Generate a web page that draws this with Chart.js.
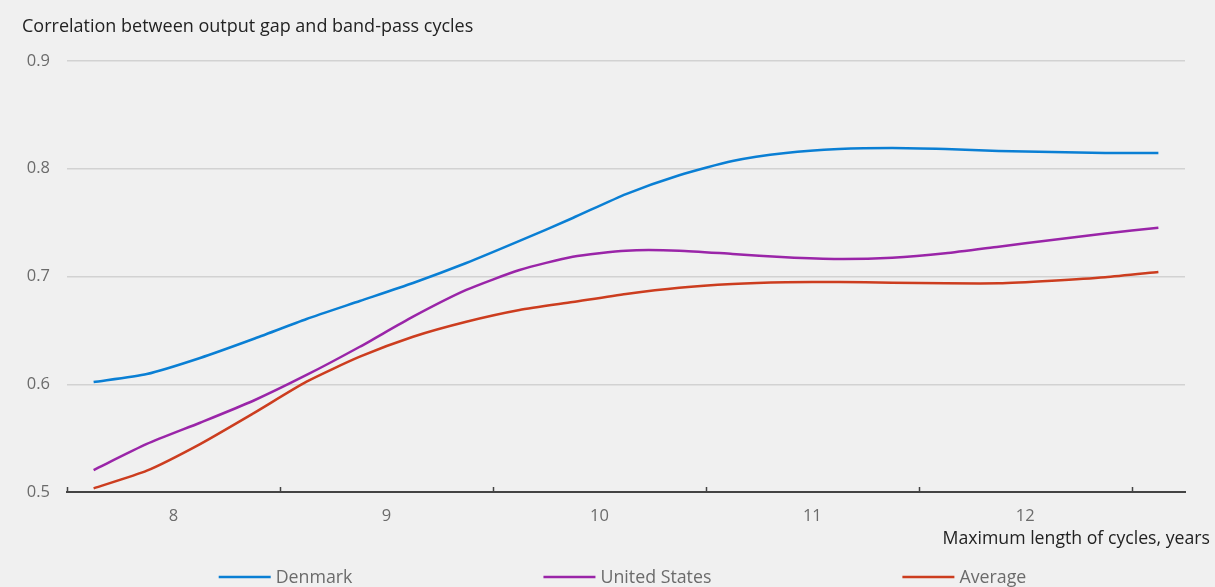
<!DOCTYPE html>
<html><head><meta charset="utf-8">
<script src="https://cdn.jsdelivr.net/npm/chart.js@4.4.0/dist/chart.umd.min.js"></script>
<style>html,body{margin:0;padding:0;background:#f0f0f0;overflow:hidden}#wrap{width:1215px;height:587px;position:relative}</style>
</head><body><div id="wrap"><canvas id="c"></canvas></div>
<script>
const xValues = [7.625, 7.875, 8.125, 8.375, 8.625, 8.875, 9.125, 9.375, 9.625, 9.875, 10.125, 10.375, 10.625, 10.875, 11.125, 11.375, 11.625, 11.875, 12.125, 12.375, 12.625];
const denmark = [0.602, 0.6095, 0.6244, 0.642, 0.6606, 0.6773, 0.694, 0.7125, 0.733, 0.7543, 0.7765, 0.794, 0.8072, 0.8146, 0.8183, 0.8193, 0.8183, 0.8165, 0.8155, 0.8146, 0.8146];
const unitedStates = [0.5204, 0.5446, 0.5643, 0.5847, 0.6086, 0.6348, 0.6627, 0.6875, 0.706, 0.7184, 0.724, 0.724, 0.7209, 0.7178, 0.7162, 0.7174, 0.7215, 0.7277, 0.7339, 0.740, 0.7453];
const average = [0.5034, 0.5198, 0.5445, 0.573, 0.6024, 0.6256, 0.6441, 0.658, 0.6689, 0.6763, 0.6838, 0.6896, 0.693, 0.6946, 0.6949, 0.6943, 0.6937, 0.6937, 0.6961, 0.6993, 0.7042];
const xTickLabels = [8, 9, 10, 11, 12];
const xBoundaryTicks = [7.5, 8.5, 9.5, 10.5, 11.5, 12.5];
const yTicks = [0.5, 0.6, 0.7, 0.8, 0.9];
const seriesNames = ['Denmark', 'United States', 'Average'];
const seriesColors = ['#0a7fd4', '#9a25a8', '#cc3d1f'];
const chartTitle = 'Correlation between output gap and band-pass cycles';
const xAxisTitle = 'Maximum length of cycles, years';

const FONT = '"Open Sans", "Noto Sans", sans-serif';
const series = [denmark, unitedStates, average];

const extras = {
  id: 'extras',
  afterDraw(chart) {
    const ctx = chart.ctx;
    const xs = chart.scales.x;
    const ca = chart.chartArea;
    ctx.save();
    ctx.strokeStyle = '#444';
    ctx.lineWidth = 1.5;
    xBoundaryTicks.forEach(v => {
      const px = Math.round(xs.getPixelForValue(v)) + 0.5;
      ctx.beginPath();
      ctx.moveTo(px, ca.bottom);
      ctx.lineTo(px, ca.bottom - 5);
      ctx.stroke();
    });
    ctx.font = '17.7px ' + FONT;
    ctx.fillStyle = '#222';
    ctx.textAlign = 'right';
    ctx.textBaseline = 'middle';
    ctx.fillText(xAxisTitle, chart.width - 5, 539);
    ctx.font = '17.8px ' + FONT;
    const lineLen = 52, gap = 5, itemGap = 191;
    const widths = chart.data.datasets.map(d => lineLen + gap + ctx.measureText(d.label).width);
    const total = widths.reduce((a, b) => a + b, 0) + itemGap * (widths.length - 1);
    let x = chart.width / 2 + 15 - total / 2;
    const y = 577;
    chart.data.datasets.forEach((d, i) => {
      ctx.strokeStyle = d.borderColor;
      ctx.lineWidth = 2.5;
      ctx.beginPath();
      ctx.moveTo(x, y);
      ctx.lineTo(x + lineLen, y);
      ctx.stroke();
      ctx.fillStyle = '#6b6b6b';
      ctx.textAlign = 'left';
      ctx.textBaseline = 'middle';
      ctx.fillText(d.label, x + lineLen + gap, y + 1);
      x += widths[i] + itemGap;
    });
    ctx.restore();
  }
};

new Chart(document.getElementById('c'), {
  type: 'line',
  data: {
    datasets: series.map((s, i) => ({
      label: seriesNames[i],
      data: xValues.map((xv, j) => ({ x: xv, y: s[j] })),
      borderColor: seriesColors[i],
      backgroundColor: seriesColors[i],
      borderWidth: 2.5,
      pointRadius: 0,
      tension: 0.2,
      fill: false
    }))
  },
  options: {
    responsive: true,
    maintainAspectRatio: false,
    animation: false,
    devicePixelRatio: 1,
    layout: { padding: { left: 22, right: 30, top: 0, bottom: 55 } },
    plugins: {
      legend: { display: false },
      tooltip: { enabled: false },
      title: {
        display: true,
        text: chartTitle,
        align: 'start',
        color: '#222',
        font: { family: FONT, size: 18, weight: 'normal' },
        padding: { top: 16, bottom: 23.4 }
      }
    },
    scales: {
      x: {
        type: 'linear',
        min: 7.5,
        max: 12.75,
        afterBuildTicks: s => { s.ticks = xTickLabels.map(v => ({ value: v })); },
        afterFit: s => { s.height = 40; },
        grid: { display: false, drawTicks: false },
        border: { display: true, color: '#444', width: 2 },
        ticks: { color: '#6b6b6b', font: { family: FONT, size: 16.5 }, padding: 14, maxRotation: 0 }
      },
      y: {
        min: 0.5,
        max: 0.9,
        afterBuildTicks: s => { s.ticks = yTicks.map(v => ({ value: v })); },
        afterFit: s => { s.width = 45; },
        grid: { color: '#d2d2d2', lineWidth: 1.5, drawTicks: false },
        border: { display: false },
        ticks: { color: '#6b6b6b', font: { family: FONT, size: 16.5 }, padding: 17, callback: v => v.toFixed(1) }
      }
    }
  },
  plugins: [extras]
});
</script></body></html>
